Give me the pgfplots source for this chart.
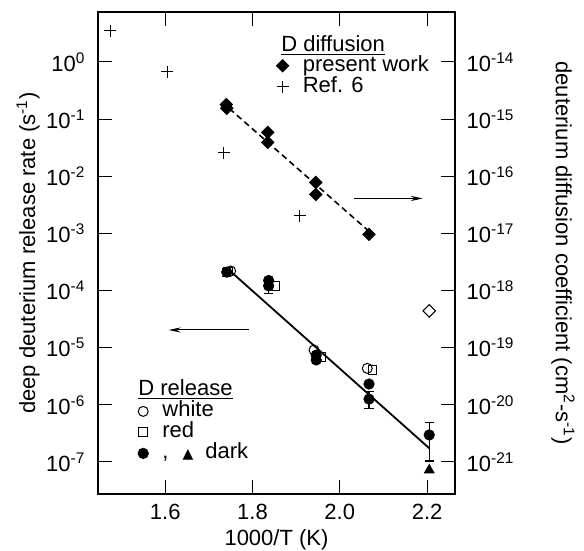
\documentclass[border=0pt]{standalone}
\usepackage{fontspec}
\setmainfont{Liberation Sans}
\newfontfamily\dejavu{DejaVu Sans}
\usepackage{pgfplots}
\pgfplotsset{compat=1.18}
\usetikzlibrary{arrows.meta}

\begin{document}
\begin{tikzpicture}
\path[use as bounding box] (-49pt,-28.5pt) rectangle (243pt,247pt);

% ---------------- left axis: release rate (all data) ----------------
\begin{axis}[
  scale only axis, width=178.5pt, height=241pt,
  xmin=1.446, xmax=2.264, ymin=2.75e-8, ymax=7.5,
  ymode=log, yminorticks=false, xminorticks=false,
  tick align=inside, major tick length=7pt,
  every tick/.style={black, line width=0.5pt},
  axis line style={line width=0.8pt},
  font=\fontsize{11}{13}\selectfont,
  ytick={1e-7,1e-6,1e-5,1e-4,1e-3,1e-2,1e-1,1},
  clip=false,
  xtick={1.6,1.8,2.0,2.2}, xticklabels={1.6,1.8,2.0,2.2},
  xticklabel pos=lower, ytick pos=left,
  yticklabels={10\textsuperscript{-7},10\textsuperscript{-6},10\textsuperscript{-5},10\textsuperscript{-4},10\textsuperscript{-3},10\textsuperscript{-2},10\textsuperscript{-1},10\textsuperscript{0}},
  yticklabel style={xshift=-2.8pt},
  xticklabel style={yshift=-1.4pt},
  xlabel={1000/T (K)},
  xlabel style={at={(axis description cs:0.5,-0.0954)}, anchor=center},
  ylabel={deep deuterium release rate (s\textsuperscript{-1})},
  ylabel style={at={(axis description cs:-0.196,0.5)}, anchor=center},
  legend style={at={(axis description cs:0.111,0.194)}, anchor=north west,
    draw=none, fill=none, inner sep=0pt, row sep=0pt, column sep=7pt,
    nodes={inner sep=0pt, text height=8pt, text depth=2.5pt}},
  legend cell align=left,
]
% white
\addplot[only marks, mark=o, mark size=2.5pt, mark options={line width=0.5pt, fill=white},
  legend image code/.code={\draw[mark=o, mark size=2.5pt, mark options={line width=0.5pt, fill=white}] plot coordinates {(0pt,0pt)};}]
  coordinates {(1.750,2.2e-4) (1.941,9.1e-6) (2.063,4.35e-6)};
\addlegendentry{white}
% red
\addplot[only marks, mark=square, mark size=2.2pt, mark options={line width=0.5pt},
  legend image code/.code={\draw[mark=square, mark size=2.2pt, mark options={line width=0.5pt}] plot coordinates {(0pt,0pt)};}]
  coordinates {(1.743,2.15e-4) (1.851,1.2e-4) (1.958,6.95e-6) (2.075,4.06e-6)};
\addlegendentry{red}
% dark circles without error bars
\addplot[only marks, mark=*, mark size=2.6pt, mark options={fill=black},
  legend image code/.code={\draw[mark=*, mark size=2.6pt, mark options={fill=black}] plot coordinates {(0pt,0pt)};}]
  coordinates {(1.837,1.5e-4) (1.946,7.4e-6) (1.946,6.1e-6) (2.067,2.31e-6)};
\addlegendentry{,\hspace{7pt}{\dejavu\fontsize{7}{7}\selectfont ▲}\hspace{6pt}dark}
% dark circles with error bars
\addplot[forget plot, only marks, mark=*, mark size=2.6pt, mark options={fill=black},
  error bars/.cd, y dir=both, y explicit,
  error bar style={line width=0.6pt, black},
  error mark=|,
  error mark options={mark size=2.3pt, line width=0.6pt, black}]
  coordinates {
    (1.741,2.1e-4) += (0,0.35e-4) -= (0,0.35e-4)
    (1.837,1.21e-4) += (0,0.3e-4) -= (0,0.32e-4)
    (2.067,1.26e-6) += (0,0.44e-6) -= (0,0.39e-6)
    (2.205,2.97e-7) += (0,1.93e-7) -= (0,1.93e-7)
  };
% dark triangle
\addplot[forget plot, only marks, mark=triangle*, mark size=2.8pt, mark options={fill=black}]
  coordinates {(2.205,7.2e-8)};
% fit line release
\addplot[forget plot, line width=0.9pt] coordinates {(1.749,2.19e-4) (2.205,1.74e-7)};
% D diffusion present work
\addplot[forget plot, only marks, mark=square*, mark size=2.2pt, mark options={rotate=45, fill=black}]
  coordinates {(1.740,0.18) (1.741,0.155) (1.835,0.0587) (1.835,0.0392)
               (1.945,7.8e-3) (1.945,4.8e-3) (2.067,9.6e-4)};
% open diamond
\addplot[forget plot, only marks, mark=square, mark size=2.2pt, mark options={rotate=45, line width=0.5pt}]
  coordinates {(2.205,4.4e-5)};
% dashed fit
\addplot[forget plot, line width=0.8pt, dash pattern=on 3pt off 2pt] coordinates {(1.747,0.153) (2.064,1.14e-3)};
% Ref. 6
\addplot[forget plot, only marks, mark=+, mark size=3pt, mark options={line width=0.5pt}]
  coordinates {(1.474,3.5) (1.605,0.68) (1.734,0.0256) (1.908,2.03e-3)};
% arrows
\addplot[forget plot, line width=0.5pt, -{Stealth[length=6pt,width=2.6pt]}] coordinates {(2.033,4.09e-3) (2.190,4.09e-3)};
\addplot[forget plot, line width=0.5pt, -{Stealth[length=6pt,width=2.6pt]}] coordinates {(1.792,2.04e-5) (1.608,2.04e-5)};
\node[anchor=base west, inner sep=0pt] at (axis description cs:0.112,0.2054) {\underline{D release}};
\end{axis}

% ---------------- right axis: diffusion coefficient ----------------
\begin{axis}[
  scale only axis, width=178.5pt, height=241pt,
  xmin=1.446, xmax=2.264, ymin=2.75e-8, ymax=7.5,
  ymode=log, yminorticks=false, xminorticks=false,
  tick align=inside, major tick length=7pt,
  every tick/.style={black, line width=0.5pt},
  axis line style={line width=0.8pt},
  font=\fontsize{11}{13}\selectfont,
  ytick={1e-7,1e-6,1e-5,1e-4,1e-3,1e-2,1e-1,1},
  clip=false,
  axis y line*=right, axis x line=none,
  yticklabels={10\textsuperscript{-21},10\textsuperscript{-20},10\textsuperscript{-19},10\textsuperscript{-18},10\textsuperscript{-17},10\textsuperscript{-16},10\textsuperscript{-15},10\textsuperscript{-14}},
  yticklabel style={xshift=2.3pt},
  ylabel={deuterium diffusion coefficient (cm\textsuperscript{2}-s\textsuperscript{-1})},
  ylabel style={at={(axis description cs:1.3025,0.5)}, anchor=center, rotate=180},
  legend style={at={(axis description cs:0.4986,0.911)}, anchor=north west,
    draw=none, fill=none, inner sep=0pt, row sep=0pt, column sep=7pt,
    nodes={inner sep=0pt, text height=8pt, text depth=2.5pt}},
  legend cell align=left,
]
\addlegendimage{legend image code/.code={\draw[mark=square*, mark size=2.2pt, mark options={rotate=45, fill=black}] plot coordinates {(0pt,0pt)};}}
\addlegendentry{present work}
\addlegendimage{legend image code/.code={\draw[mark=+, mark size=3pt, mark options={line width=0.5pt}] plot coordinates {(0pt,0pt)};}}
\addlegendentry{Ref. 6}
\node[anchor=base west, inner sep=0pt] at (axis description cs:0.5126,0.9176) {\underline{D diffusion}};
\end{axis}
\end{tikzpicture}
\end{document}
